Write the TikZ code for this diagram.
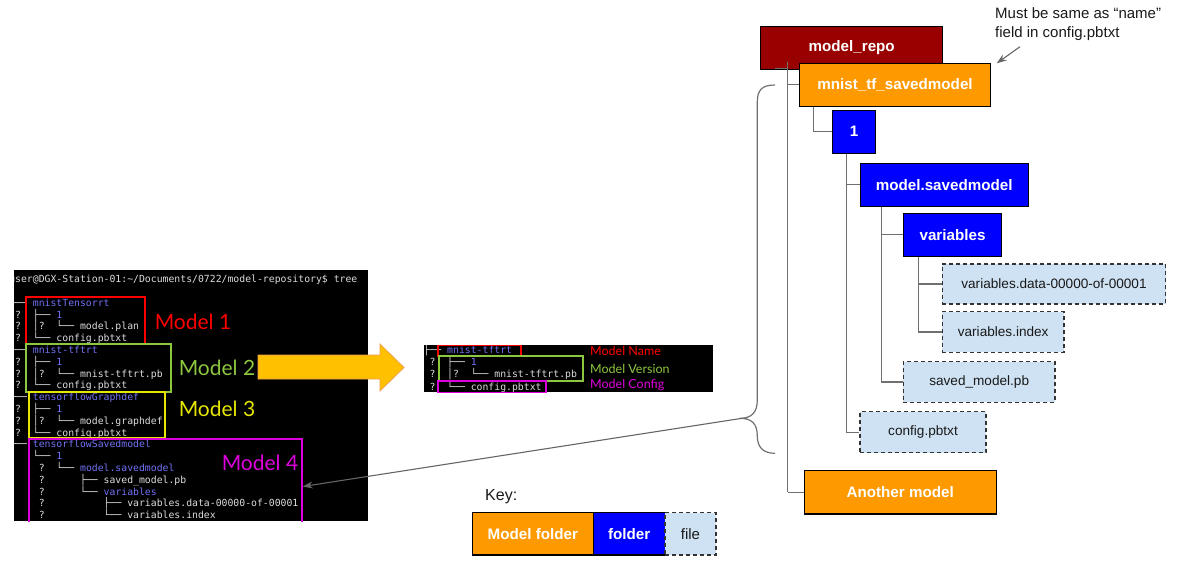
\documentclass[tikz,border=0pt]{standalone}
\usepackage{fontspec}
\setmainfont{Liberation Sans}
\newfontfamily\termfont{DejaVu Sans Mono}
\newfontfamily\handfont{Lato}
\usetikzlibrary{arrows.meta,calc,backgrounds}

\definecolor{repored}{HTML}{990000}
\definecolor{mforange}{HTML}{FF9900}
\definecolor{fblue}{HTML}{0000FF}
\definecolor{fileblue}{HTML}{CFE2F3}
\definecolor{conngray}{HTML}{707070}
\definecolor{dashgray}{HTML}{333333}
\definecolor{termfg}{HTML}{DCDCDC}
\definecolor{termdir}{HTML}{7272F5}
\definecolor{tagred}{HTML}{FF0000}
\definecolor{taggreen}{HTML}{8DC63F}
\definecolor{tagyellow}{HTML}{E6E600}
\definecolor{tagmag}{HTML}{DD00DD}
\definecolor{arrowgold}{HTML}{FFC000}
\definecolor{arrowedge}{HTML}{F0A050}

\newcommand\dirc[1]{\textcolor{termdir}{#1}}
% one line of the big terminal: line number, node name, content
\newcommand\termline[3]{\node[term] (#2) at (9.1,{282.7+11.8*#1}) {#3};}
% one line of the small terminal
\newcommand\smallline[3]{\node[term] (#2) at (423.4,{353.4+12.2*#1}) {#3};}

\tikzset{
  term/.style={font=\termfont\fontsize{9.8}{11}\selectfont, text=termfg, inner sep=0pt, anchor=base west},
  hand/.style={font=\handfont\fontsize{21}{24}\selectfont, inner sep=0pt},
  handsmall/.style={font=\handfont\fontsize{12.5}{14}\selectfont, inner sep=0pt, anchor=west},
  tagbox/.style={draw, line width=1.5pt, inner sep=0pt, fill=none},
  treebox/.style={draw=black, line width=1.1pt, inner sep=0pt, text=white,
    font=\bfseries\fontsize{15.2}{18}\selectfont},
  repobox/.style={treebox, fill=repored},
  mfold/.style={treebox, fill=mforange},
  fold/.style={treebox, fill=fblue},
  filebox/.style={draw=dashgray, dash pattern=on 4pt off 3pt, line width=1.4pt,
    fill=fileblue, inner sep=0pt, text=black!90, font=\fontsize{13.6}{16}\selectfont},
  conn/.style={draw=conngray, line width=1.3pt},
  pointer/.style={draw=conngray!90!black, line width=1.1pt, -{Stealth[length=10pt,width=7pt]}},
}

\begin{document}
\begin{tikzpicture}[x=1pt,y=-1pt]
\useasboundingbox (0,0) rectangle (1179,563);

% ---------- terminal listing of the model repository ----------
\begin{scope}
  \clip (14,270) rectangle (368,521);
  \fill[black] (14,270) rectangle (368,521);
  \termline{0}{t0}{user@DGX-Station-01:\textasciitilde/Documents/0722/model-repository\$~tree}
  \termline{2}{t2}{├──~\dirc{mnistTensorrt}}
  \termline{3}{t3}{~?~~├──~\dirc{1}}
  \termline{4}{t4}{~?~~│?~~└──~model.plan}
  \termline{5}{t5}{~?~~└──~config.pbtxt}
  \termline{6}{t6}{├──~\dirc{mnist-tftrt}}
  \termline{7}{t7}{~?~~├──~\dirc{1}}
  \termline{8}{t8}{~?~~│?~~└──~mnist-tftrt.pb}
  \termline{9}{t9}{~?~~└──~config.pbtxt}
  \termline{10}{t10}{├──~\dirc{tensorflowGraphdef}}
  \termline{11}{t11}{~?~~├──~\dirc{1}}
  \termline{12}{t12}{~?~~│?~~└──~model.graphdef}
  \termline{13}{t13}{~?~~└──~config.pbtxt}
  \termline{14}{t14}{└──~\dirc{tensorflowSavedmodel}}
  \termline{15}{t15}{~~~~└──~\dirc{1}}
  \termline{16}{t16}{~~~~~?~~└──~\dirc{model.savedmodel}}
  \termline{17}{t17}{~~~~~?~~~~~~├──~saved\_model.pb}
  \termline{18}{t18}{~~~~~?~~~~~~└──~\dirc{variables}}
  \termline{19}{t19}{~~~~~?~~~~~~~~~~├──~variables.data-00000-of-00001}
  \termline{20}{t20}{~~~~~?~~~~~~~~~~└──~variables.index}
  % model outlines
  \node[tagbox, draw=tagred, minimum width=119pt, minimum height=47pt] (m1) at (85.5,320.5) {};
  \node[tagbox, draw=taggreen, minimum width=145pt, minimum height=48pt] (m2) at (98.5,368) {};
  \node[tagbox, draw=tagyellow, minimum width=136pt, minimum height=46pt] (m3) at (97,415) {};
  \node[tagbox, draw=tagmag, minimum width=273pt, minimum height=95pt] (m4) at (165.5,486.5) {};
  \node[hand, text=tagred] (l1) at (193,322) {Model 1};
  \node[hand, text=taggreen] (l2) at (217,368) {Model 2};
  \node[hand, text=tagyellow] (l3) at (217,409) {Model 3};
  \node[hand, text=tagmag] (l4) at (260,463) {Model 4};
\end{scope}

% ---------- big arrow ----------
\fill[arrowgold, draw=arrowedge, line width=0.8pt]
  (258,355) -- (380,355) -- (380,344) -- (404,367.5) -- (380,391) -- (380,379) -- (258,379) -- cycle;

% ---------- anatomy of one model ----------
\begin{scope}
  \clip (424,345) rectangle (713,392);
  \fill[black] (424,345) rectangle (713,392);
  \smallline{0}{s0}{├──~\dirc{mnist-tftrt}}
  \smallline{1}{s1}{~?~~├──~\dirc{1}}
  \smallline{2}{s2}{~?~~│?~~└──~mnist-tftrt.pb}
  \smallline{3}{s3}{~?~~└──~config.pbtxt}
  \node[tagbox, draw=tagred, minimum width=83pt, minimum height=11pt] (nr) at (479.5,350.8) {};
  \node[tagbox, draw=taggreen, minimum width=144pt, minimum height=25pt] (ng) at (511,368.5) {};
  \node[tagbox, draw=tagmag, minimum width=108pt, minimum height=12pt] (nm) at (492,387) {};
  \node[handsmall, text=tagred] (ln) at (590,350.5) {Model Name};
  \node[handsmall, text=taggreen] (lv) at (590,368.5) {Model Version};
  \node[handsmall, text=tagmag] (lc) at (590,385.5) {Model Config};
\end{scope}

% ---------- repository tree ----------
\node[repobox, minimum width=182pt, minimum height=42.6pt] (repo) at (851.7,48) {model\_repo};
% trunk from the repository folder, drawn over its lower edge
\coordinate (trunktop) at (787.7,61.7);
\draw[conn] (775,68.3) -- (787.7,68.3);
\draw[conn] (trunktop) -- (787.7,492.3) coordinate (trunkend);
\node[mfold, minimum width=191.4pt, minimum height=42.7pt] (mnist) at (895,84.7) {mnist\_tf\_savedmodel};
\node[mfold, minimum width=191.7pt, minimum height=43.3pt] (another) at (900.2,492.3) {Another model};
\draw[conn] (787.7,84.7) -- (mnist.west);
\draw[conn] (trunkend) -- (another.west);

\node[fold, minimum width=42.6pt, minimum height=43.3pt] (one) at (854,131.7) {1};
\node[fold, minimum width=168.3pt, minimum height=42.7pt] (msaved) at (944.2,184.7) {model.savedmodel};
\node[fold, minimum width=98.4pt, minimum height=42.7pt] (vars) at (952.5,234.7) {variables};
\node[filebox, minimum width=223.4pt, minimum height=40pt] (vdata) at (1054,284) {variables.data-00000-of-00001};
\node[filebox, minimum width=121.7pt, minimum height=40.6pt] (vindex) at (1003.2,332) {variables.index};
\node[filebox, minimum width=151.7pt, minimum height=40.6pt] (savedpb) at (979.2,382) {saved\_model.pb};
\node[filebox, minimum width=126pt, minimum height=41pt] (config) at (923,432.2) {config.pbtxt};

% elbow connectors sit behind the boxes
\begin{pgfonlayer}{background}
\draw[conn] ($(mnist.south west)+(14.7,0)$) |- (one.west);
\draw[conn] ($(one.south west)+(14.6,0)$) |- (msaved.west);
\draw[conn] ($(one.south west)+(14.6,0)$) |- (config.west);
\draw[conn] ($(msaved.south west)+(22.3,0)$) |- (vars.west);
\draw[conn] ($(msaved.south west)+(22.3,0)$) |- (savedpb.west);
\draw[conn] ($(vars.south west)+(15.7,0)$) |- (vdata.west);
\draw[conn] ($(vars.south west)+(15.7,0)$) |- (vindex.west);
\end{pgfonlayer}

% brace grouping the contents of one model
\draw[conngray, line width=1.2pt]
  (775,85) .. controls (762,85) and (757.3,90) .. (757.3,102)
  -- (757.3,400) .. controls (757.3,412) and (752,418.3) .. (740,418.3)
  .. controls (752,418.3) and (757.3,424) .. (757.3,436)
  .. controls (757.3,448) and (764,453.3) .. (775,453.3);
\coordinate (bracetip) at (742,418.3);
\draw[pointer] (bracetip) -- (m4.east);

% note on the model folder name
\node[anchor=north west, align=left, inner sep=0pt, font=\fontsize{15}{19}\selectfont, text=black!90]
  (note) at (995,7.5) {Must be same as “name”\\field in config.pbtxt};
\coordinate (notefrom) at (1020,46.7);
\coordinate (noteto) at (996.7,63.3);
\draw[pointer] (notefrom) -- (noteto);

% ---------- key ----------
\node[anchor=west, inner sep=0pt, font=\fontsize{16}{19}\selectfont, text=black!90] (keylabel) at (485,497) {Key:};
\node[mfold, minimum width=121pt, minimum height=42.3pt] (kmf) at (532.8,533.8) {Model folder};
\node[fold, minimum width=71.7pt, minimum height=42.3pt] (kf) at (629.2,533.8) {folder};
\node[filebox, minimum width=51pt, minimum height=42.3pt, font=\fontsize{15}{18}\selectfont] (kfile) at (690.5,533.8) {file};
\end{tikzpicture}
\end{document}
